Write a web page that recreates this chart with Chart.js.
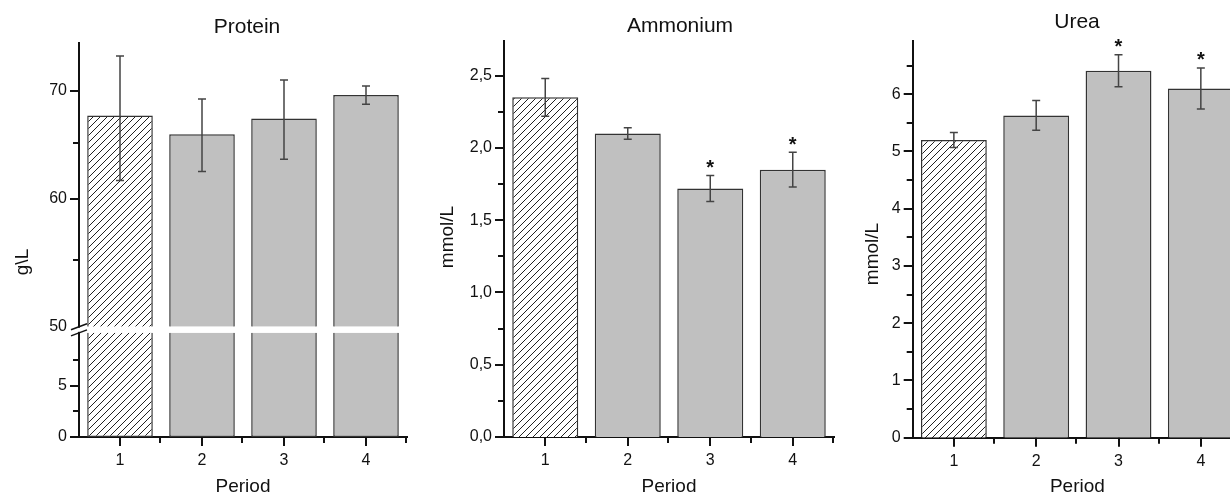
<!DOCTYPE html>
<html>
<head>
<meta charset="utf-8">
<title>Protein, Ammonium, Urea</title>
<script src="https://cdn.jsdelivr.net/npm/chart.js@4.4.0/dist/chart.umd.min.js"></script>
<style>
  html, body { margin: 0; padding: 0; background: #fff; width: 1230px; height: 500px; overflow: hidden; position: relative; }
  .panel { position: absolute; top: 0; height: 500px; }
</style>
</head>
<body>
<div class="panel" style="left:0;width:410px"><canvas id="protein"></canvas></div>
<div class="panel" style="left:410px;width:430px"><canvas id="ammonium"></canvas></div>
<div class="panel" style="left:845px;width:405px"><canvas id="urea"></canvas></div>
<script>
const periods = ['1', '2', '3', '4'];

const proteinMean = [67.6, 65.8, 67.3, 69.6];
const proteinErr = [6.0, 3.4, 3.8, 0.9];

const ammoniumMean = [2.35, 2.10, 1.72, 1.85];
const ammoniumErr = [0.13, 0.04, 0.09, 0.12];
const ammoniumSig = ['', '', '*', '*'];

const ureaMean = [5.20, 5.63, 6.41, 6.10];
const ureaErr = [0.13, 0.26, 0.28, 0.36];
const ureaSig = ['', '', '*', '*'];

// protein axis is broken: linear 0..10 below, log 50..75 above
const proteinLowTicks = [0, 2.5, 5, 7.5];
const proteinHighTicks = [50, 55, 60, 65, 70];
const ammoniumTicks = [0, 0.25, 0.5, 0.75, 1, 1.25, 1.5, 1.75, 2, 2.25, 2.5];
const ureaTicks = [0, 0.5, 1, 1.5, 2, 2.5, 3, 3.5, 4, 4.5, 5, 5.5, 6, 6.5];

const FONT = "'Liberation Sans', Arial, sans-serif";
const INK = '#111';
const GRAY = '#c0c0c0';
const PROTEIN_LOW_TOP = 10.2;

function hatch() {
  const c = document.createElement('canvas');
  c.width = 7; c.height = 7;
  const g = c.getContext('2d');
  g.fillStyle = '#fff';
  g.fillRect(0, 0, 7, 7);
  g.strokeStyle = '#222';
  g.lineWidth = 1;
  g.beginPath();
  g.moveTo(-1, 8); g.lineTo(8, -1);
  g.moveTo(-1, 1); g.lineTo(1, -1);
  g.moveTo(6, 8); g.lineTo(8, 6);
  g.stroke();
  return g.createPattern(c, 'repeat');
}
const fills = [hatch(), GRAY, GRAY, GRAY];

const barStyle = {
  backgroundColor: fills,
  borderColor: '#333',
  borderWidth: 1.5,
  barPercentage: 0.8,
  categoryPercentage: 1,
  grouped: false
};

// error bars, stars, tick marks, titles, axis break
const decor = {
  id: 'decor',
  afterDatasetsDraw(chart, args, o) {
    const ctx = chart.ctx;
    const x = chart.scales.x;
    const ys = chart.scales[o.errAxis];
    ctx.save();
    ctx.strokeStyle = '#444';
    ctx.lineWidth = 1.5;
    o.mean.forEach((m, i) => {
      const px = x.getPixelForValue(i);
      const top = ys.getPixelForValue(m + o.err[i]);
      const bot = ys.getPixelForValue(m - o.err[i]);
      ctx.beginPath();
      ctx.moveTo(px, top); ctx.lineTo(px, bot);
      ctx.moveTo(px - 4, top); ctx.lineTo(px + 4, top);
      ctx.moveTo(px - 4, bot); ctx.lineTo(px + 4, bot);
      ctx.stroke();
      if (o.sig && o.sig[i]) {
        ctx.fillStyle = INK;
        ctx.font = 'bold 20px ' + FONT;
        ctx.textAlign = 'center';
        ctx.textBaseline = 'alphabetic';
        ctx.fillText(o.sig[i], px, top - 13 + 11.5);
      }
    });
    ctx.restore();
  },
  afterDraw(chart, args, o) {
    const ctx = chart.ctx;
    const x = chart.scales.x;
    ctx.save();
    ctx.strokeStyle = INK;
    ctx.lineWidth = 2;
    ctx.beginPath();
    // y tick marks, longer where labelled
    o.yAxes.forEach(id => {
      const s = chart.scales[id];
      s.ticks.forEach(t => {
        if (o.noTick && o.noTick[id] === t.value) return;
        const py = Math.round(s.getPixelForValue(t.value));
        const len = t.label !== '' ? 9 : 6;
        ctx.moveTo(s.right - len, py);
        ctx.lineTo(s.right, py);
      });
    });
    // x tick marks at centres and category edges
    const step = x.width / periods.length;
    periods.forEach((p, i) => {
      const px = Math.round(x.getPixelForValue(i));
      ctx.moveTo(px, x.top); ctx.lineTo(px, x.top + 9);
      const ex = Math.round(x.getPixelForValue(i) + step / 2) - 1;
      ctx.moveTo(ex, x.top); ctx.lineTo(ex, x.top + 6);
    });
    ctx.stroke();

    if (o.axisBreak) {
      const hi = chart.scales.yHigh;
      const lo = chart.scales.yLow;
      const ax = hi.right;
      const y1 = hi.getPixelForValue(hi.min);
      const y2 = lo.getPixelForValue(PROTEIN_LOW_TOP);
      ctx.fillStyle = '#fff';
      ctx.fillRect(ax - 3, y1 + 1, 6, y2 - y1 - 2);
      ctx.lineWidth = 1.5;
      ctx.beginPath();
      ctx.moveTo(ax - 8, y1 + 3); ctx.lineTo(ax + 8, y1 - 3);
      ctx.moveTo(ax - 8, y2 + 3); ctx.lineTo(ax + 8, y2 - 3);
      ctx.stroke();
    }

    ctx.fillStyle = INK;
    ctx.textAlign = 'center';
    ctx.textBaseline = 'middle';
    ctx.font = '21px ' + FONT;
    ctx.fillText(o.title.text, o.title.x, o.title.y);
    ctx.font = '19px ' + FONT;
    ctx.translate(o.yTitle.x, o.yTitle.y);
    ctx.rotate(-Math.PI / 2);
    ctx.fillText(o.yTitle.text, 0, 0);
    ctx.restore();
  }
};

function xScale(h) {
  return {
    type: 'category',
    z: 1,
    grid: { display: false, drawTicks: false },
    border: { color: INK, width: 2 },
    ticks: { color: INK, font: { family: FONT, size: 16 }, padding: 14, maxRotation: 0 },
    title: { display: true, text: 'Period', color: INK, font: { family: FONT, size: 19 }, padding: { top: 0, bottom: 2 } },
    afterFit: s => { s.height = h; }
  };
}

function yScale(extra, width, tickVals, fmt) {
  return Object.assign({
    position: 'left',
    z: 1,
    grid: { display: false, drawTicks: false },
    border: { color: INK, width: 2 },
    afterBuildTicks: s => { s.ticks = tickVals.map(v => ({ value: v })); },
    ticks: { autoSkip: false, color: INK, font: { family: FONT, size: 16 }, padding: 12, callback: fmt },
    afterFit: s => { s.width = width; }
  }, extra);
}

new Chart(document.getElementById('protein'), {
  type: 'bar',
  data: {
    labels: periods,
    datasets: [
      Object.assign({ data: proteinMean.map(m => [0, Math.min(m, PROTEIN_LOW_TOP)]), yAxisID: 'yLow', borderSkipped: 'top' }, barStyle),
      Object.assign({ data: proteinMean.map(m => [50, m]), yAxisID: 'yHigh', borderSkipped: 'bottom' }, barStyle)
    ]
  },
  options: {
    responsive: true,
    maintainAspectRatio: false,
    animation: false,
    layout: { padding: { left: 0, right: 3, top: 42.7, bottom: 0 } },
    plugins: {
      legend: { display: false },
      tooltip: { enabled: false },
      decor: {
        mean: proteinMean, err: proteinErr, errAxis: 'yHigh',
        yAxes: ['yHigh', 'yLow'], noTick: { yHigh: 50 }, axisBreak: true,
        title: { text: 'Protein', x: 247, y: 27 },
        yTitle: { text: 'g\\L', x: 23, y: 262 }
      }
    },
    scales: {
      x: xScale(63),
      yLow: yScale({ type: 'linear', min: 0, max: 10.8, stack: 'protein', stackWeight: 110.3 }, 79,
        proteinLowTicks, v => (v % 5 === 0 ? String(v) : '')),
      yHigh: yScale({ type: 'logarithmic', min: 50, max: 75, stack: 'protein', stackWeight: 284 }, 79,
        proteinHighTicks, v => (v % 10 === 0 ? String(v) : ''))
    }
  },
  plugins: [decor]
});

new Chart(document.getElementById('ammonium'), {
  type: 'bar',
  data: {
    labels: periods,
    datasets: [Object.assign({ data: ammoniumMean }, barStyle)]
  },
  options: {
    responsive: true,
    maintainAspectRatio: false,
    animation: false,
    layout: { padding: { left: 0, right: 6, top: 41, bottom: 0 } },
    plugins: {
      legend: { display: false },
      tooltip: { enabled: false },
      decor: {
        mean: ammoniumMean, err: ammoniumErr, sig: ammoniumSig, errAxis: 'y',
        yAxes: ['y'],
        title: { text: 'Ammonium', x: 270, y: 26 },
        yTitle: { text: 'mmol/L', x: 38, y: 237 }
      }
    },
    scales: {
      x: xScale(63),
      y: yScale({ type: 'linear', min: 0, max: 2.74 }, 94, ammoniumTicks,
        v => (Math.round(v * 4) % 2 === 0 ? v.toFixed(1).replace('.', ',') : ''))
    }
  },
  plugins: [decor]
});

new Chart(document.getElementById('urea'), {
  type: 'bar',
  data: {
    labels: periods,
    datasets: [Object.assign({ data: ureaMean }, barStyle)]
  },
  options: {
    responsive: true,
    maintainAspectRatio: false,
    animation: false,
    layout: { padding: { left: 0, right: 8, top: 41, bottom: 0 } },
    plugins: {
      legend: { display: false },
      tooltip: { enabled: false },
      decor: {
        mean: ureaMean, err: ureaErr, sig: ureaSig, errAxis: 'y',
        yAxes: ['y'],
        title: { text: 'Urea', x: 232, y: 22 },
        yTitle: { text: 'mmol/L', x: 28, y: 254 }
      }
    },
    scales: {
      x: xScale(62.3),
      y: yScale({ type: 'linear', min: 0, max: 6.93 }, 67.7, ureaTicks,
        v => (Number.isInteger(v) ? String(v) : ''))
    }
  },
  plugins: [decor]
});
</script>
</body>
</html>
